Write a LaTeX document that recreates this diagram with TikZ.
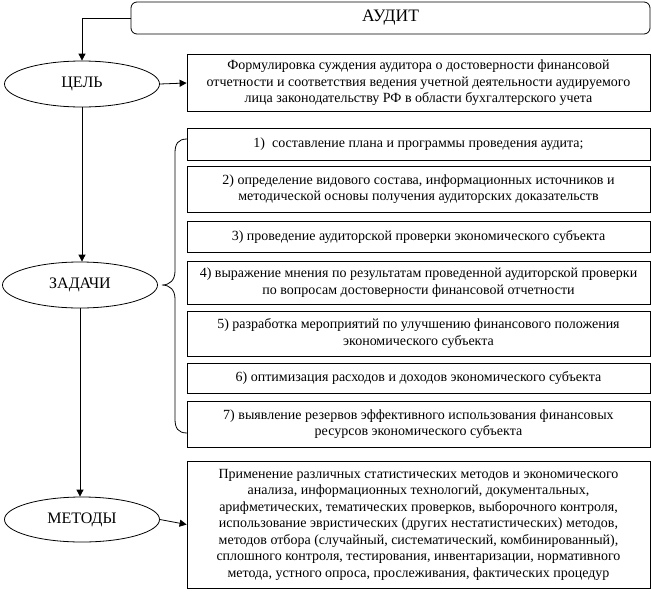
\documentclass[tikz,border=0pt]{standalone}
\usepackage{fontspec}
\setmainfont{Liberation Serif}
\usetikzlibrary{arrows.meta,shapes.geometric}
\begin{document}
\begin{tikzpicture}[x=1pt, y=-1pt, line width=0.8pt, >={Triangle[length=7pt,width=7pt]},
	box/.style={draw, rectangle, minimum width=463pt, inner sep=0pt, align=center, font=\fontsize{14}{16.5}\selectfont},
	oval/.style={draw, ellipse, minimum width=155pt, minimum height=46pt, inner sep=0pt, font=\fontsize{16}{19}\selectfont}]
	\useasboundingbox (0,0) rectangle (651,592);
	
	\node[draw, rounded corners=6pt, minimum width=519pt, minimum height=32pt, font=\fontsize{17.5}{20}\selectfont] (audit) at (390.5,18) {АУДИТ};
	
	\node[oval] (cel) at (82,84) {ЦЕЛЬ};
	\node[oval] (zad) at (80,285) {ЗАДАЧИ};
	\node[oval, minimum height=45pt] (met) at (82,519.5) {МЕТОДЫ};
	
	\node[box, minimum height=57pt] (goal) at (418.5,83) {Формулировка суждения аудитора о достоверности финансовой\\ отчетности и соответствия ведения учетной деятельности аудируемого\\ лица законодательству РФ в области бухгалтерского учета};
	
	\node[box, minimum height=32pt] (t1) at (418.5,144) {1)\ \ составление плана и программы проведения аудита;};
	\node[box, minimum height=46pt] (t2) at (418.5,189) {2) определение видового состава, информационных источников и\\ методической основы получения аудиторских доказательств};
	\node[box, minimum height=31pt] (t3) at (418.5,236.5) {3) проведение аудиторской проверки экономического субъекта};
	\node[box, minimum height=43pt] (t4) at (418.5,282.5) {4) выражение мнения по результатам проведенной аудиторской проверки\\ по вопросам достоверности финансовой отчетности};
	\node[box, minimum height=45pt] (t5) at (418.5,333.5) {5) разработка мероприятий по улучшению финансового положения\\ экономического субъекта};
	\node[box, minimum height=30pt] (t6) at (418.5,378) {6) оптимизация расходов и доходов экономического субъекта};
	\node[box, minimum height=46pt] (t7) at (418.5,424) {7) выявление резервов эффективного использования финансовых\\ ресурсов экономического субъекта};
	
	\node[box, minimum height=127pt] (meth) at (418.5,524.5) {Применение различных статистических методов и экономического\\ анализа, информационных технологий, документальных,\\ арифметических, тематических проверков, выборочного контроля,\\ использование эвристических (других нестатистических) методов,\\ методов отбора (случайный, систематический, комбинированный),\\ сплошного контроля, тестирования, инвентаризации, нормативного\\ метода, устного опроса, прослеживания, фактических процедур};
	
	\draw[->] (audit.west) -| (cel.north);
	\foreach \from / \to in {cel/zad, zad/met}
		\draw[->] (\from.south) -- (\from.south |- \to.north);
	\foreach \from / \to in {cel/goal, met/meth}
		\draw[->] (\from.east) -- (\to.west);
	
	% brace
	\draw (187,139) .. controls (178,139) and (175,144) .. (175,153) -- (175,271) .. controls (175,280) and (170,285) .. (162,285) .. controls (170,285) and (175,290) .. (175,299) -- (175,419) .. controls (175,428) and (178,433) .. (187,433);
\end{tikzpicture}
\end{document}
